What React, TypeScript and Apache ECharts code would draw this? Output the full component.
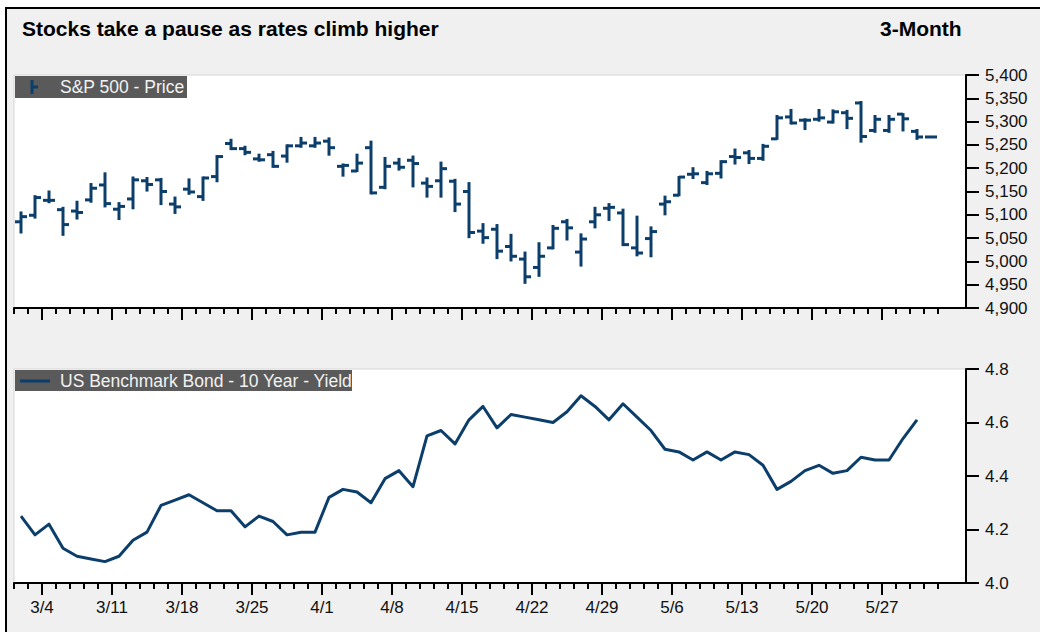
import React, { useEffect, useRef } from "react";
import * as echarts from "echarts";

// Trading-day categories (weekdays, holidays included)
const dates = [
  "2/29", "3/1", "3/4", "3/5", "3/6", "3/7", "3/8", "3/11", "3/12", "3/13", "3/14", "3/15",
  "3/18", "3/19", "3/20", "3/21", "3/22", "3/25", "3/26", "3/27", "3/28", "3/29",
  "4/1", "4/2", "4/3", "4/4", "4/5", "4/8", "4/9", "4/10", "4/11", "4/12",
  "4/15", "4/16", "4/17", "4/18", "4/19", "4/22", "4/23", "4/24", "4/25", "4/26",
  "4/29", "4/30", "5/1", "5/2", "5/3", "5/6", "5/7", "5/8", "5/9", "5/10",
  "5/13", "5/14", "5/15", "5/16", "5/17", "5/20", "5/21", "5/22", "5/23", "5/24",
  "5/27", "5/28", "5/29", "5/30", "5/31", "6/3",
];
const edges = [...dates, "6/4"];
const weekLabels = ["3/4", "3/11", "3/18", "3/25", "4/1", "4/8", "4/15", "4/22", "4/29", "5/6", "5/13", "5/20", "5/27"];

// S&P 500 daily OHLC
const spOpen = [
  5085, 5099, 5131, 5111, 5108, 5132, 5164, 5112, 5134, 5173, 5175, 5123,
  5155, 5139, 5182, 5253, 5242, 5220, 5229, 5226, 5248, 5248,
  5258, 5204, 5194, 5244, 5159, 5211, 5217, 5168, 5173, 5172,
  5150, 5065, 5069, 5032, 5005, 4987, 5029, 5085, 5020, 5085,
  5114, 5104, 5029, 5049, 5123, 5142, 5187, 5169, 5189, 5225,
  5233, 5221, 5263, 5310, 5303, 5305, 5299, 5319, 5340, 5281,
  5281, 5316, 5279, 5267,
];
const spHigh = [
  5105, 5140, 5150, 5115, 5128, 5166, 5189, 5125, 5180, 5179, 5177, 5137,
  5176, 5180, 5226, 5261, 5246, 5229, 5235, 5249, 5265, 5265,
  5264, 5208, 5229, 5257, 5222, 5220, 5225, 5178, 5212, 5175,
  5168, 5080, 5078, 5057, 5019, 5039, 5076, 5089, 5058, 5115,
  5123, 5111, 5096, 5073, 5139, 5181, 5200, 5192, 5215, 5240,
  5237, 5250, 5312, 5325, 5305, 5325, 5324, 5323, 5342, 5312,
  5312, 5316, 5282, 5267,
];
const spLow = [
  5062, 5094, 5127, 5057, 5092, 5128, 5118, 5091, 5114, 5152, 5123, 5104,
  5145, 5132, 5172, 5241, 5230, 5216, 5203, 5214, 5246, 5246,
  5229, 5184, 5194, 5146, 5157, 5197, 5161, 5139, 5139, 5108,
  5052, 5040, 5007, 5002, 4954, 4969, 5028, 5047, 4991, 5073,
  5089, 5035, 5013, 5011, 5101, 5142, 5179, 5166, 5180, 5210,
  5211, 5218, 5263, 5296, 5284, 5302, 5298, 5286, 5257, 5278,
  5278, 5281, 5263, 5267,
];
const spClose = [
  5096, 5137, 5131, 5079, 5105, 5157, 5124, 5118, 5175, 5165, 5150, 5117,
  5149, 5179, 5225, 5242, 5234, 5218, 5204, 5248, 5254, 5254,
  5244, 5206, 5211, 5147, 5204, 5202, 5210, 5161, 5199, 5123,
  5062, 5051, 5022, 5011, 4967, 5011, 5071, 5072, 5048, 5100,
  5116, 5036, 5018, 5064, 5128, 5181, 5188, 5188, 5214, 5223,
  5221, 5247, 5308, 5297, 5303, 5308, 5321, 5307, 5268, 5305,
  5305, 5306, 5267, 5267,
];

// US 10-year yield
const bondYield = [
  4.25, 4.18, 4.22, 4.13, 4.10, 4.09, 4.08, 4.10, 4.16, 4.19, 4.29, 4.31,
  4.33, 4.30, 4.27, 4.27, 4.21, 4.25, 4.23, 4.18, 4.19, 4.19,
  4.32, 4.35, 4.34, 4.30, 4.39, 4.42, 4.36, 4.55, 4.57, 4.52,
  4.61, 4.66, 4.58, 4.63, 4.62, 4.61, 4.60, 4.64, 4.70, 4.66,
  4.61, 4.67, 4.62, 4.57, 4.50, 4.49, 4.46, 4.49, 4.46, 4.49,
  4.48, 4.44, 4.35, 4.38, 4.42, 4.44, 4.41, 4.42, 4.47, 4.46,
  4.46, 4.54, 4.61,
];

const NAVY = "#0c3e6b";
const FONT = "Liberation Sans, Arial, Helvetica, sans-serif";
const AXIS = { color: "#000", width: 2 };

function xAxesFor(g: number, withLabels: boolean) {
  return [
    {
      type: "category", gridIndex: g, position: "bottom", data: dates, boundaryGap: true,
      axisLine: { show: true, onZero: false, lineStyle: AXIS },
      axisTick: { show: false }, axisLabel: { show: false }, splitLine: { show: false },
    },
    {
      type: "category", gridIndex: g, position: "bottom", data: edges, boundaryGap: false,
      axisLine: { show: false, onZero: false },
      axisTick: { show: true, length: 6, interval: (i: number) => i <= 66, lineStyle: AXIS },
      axisLabel: { show: false }, splitLine: { show: false },
    },
    {
      type: "category", gridIndex: g, position: "bottom", data: edges, boundaryGap: false,
      axisLine: { show: false, onZero: false },
      axisTick: { show: true, length: 12, interval: (_i: number, v: string) => weekLabels.includes(v), lineStyle: AXIS },
      axisLabel: {
        show: withLabels, interval: (_i: number, v: string) => weekLabels.includes(v),
        fontSize: 17, color: "#111", fontFamily: FONT, margin: 16,
      },
      splitLine: { show: false },
    },
  ];
}

export default function App() {
  const ref = useRef<HTMLDivElement>(null);
  useEffect(() => {
    const chart = echarts.init(ref.current!, null, { renderer: "svg" });
    const ohlc = spOpen.map((o, i) => [i, o, spHigh[i], spLow[i], spClose[i]]);
    const option: any = {
      animation: false,
      backgroundColor: "#f0f0f0",
      grid: [
        { left: 14, top: 75, width: 952, height: 233, show: true, backgroundColor: "#fff", borderColor: "#d6d6d6", borderWidth: 1 },
        { left: 14, top: 369, width: 952, height: 214, show: true, backgroundColor: "#fff", borderColor: "#d6d6d6", borderWidth: 1 },
      ],
      xAxis: [...xAxesFor(0, false), ...xAxesFor(1, true)],
      yAxis: [
        {
          type: "value", gridIndex: 0, position: "right", min: 4900, max: 5400, interval: 50,
          axisLine: { show: true, lineStyle: AXIS },
          axisTick: { show: true, length: 13, lineStyle: AXIS },
          splitLine: { show: false },
          axisLabel: {
            fontSize: 17, color: "#111", fontFamily: FONT, margin: 19,
            formatter: (v: number) => v.toLocaleString("en-US"),
          },
        },
        {
          type: "value", gridIndex: 1, position: "right", min: 4.0, max: 4.8, interval: 0.2,
          axisLine: { show: true, lineStyle: AXIS },
          axisTick: { show: true, length: 13, lineStyle: AXIS },
          splitLine: { show: false },
          axisLabel: {
            fontSize: 17, color: "#111", fontFamily: FONT, margin: 19,
            formatter: (v: number) => v.toFixed(1),
          },
        },
      ],
      series: [
        {
          type: "custom", name: "S&P 500 - Price", xAxisIndex: 0, yAxisIndex: 0,
          data: ohlc, encode: { x: 0, y: [1, 2, 3, 4] },
          renderItem: (_p: any, api: any) => {
            const x = api.value(0);
            const o = api.coord([x, api.value(1)]);
            const h = api.coord([x, api.value(2)]);
            const l = api.coord([x, api.value(3)]);
            const c = api.coord([x, api.value(4)]);
            const style = { stroke: NAVY, lineWidth: 3 };
            const children: any[] = [
              { type: "line", shape: { x1: o[0] - 6, y1: o[1], x2: o[0], y2: o[1] }, style },
              { type: "line", shape: { x1: c[0], y1: c[1], x2: c[0] + 6, y2: c[1] }, style },
            ];
            if (Math.abs(h[1] - l[1]) > 0.5) {
              children.push({ type: "line", shape: { x1: h[0], y1: h[1] - 1, x2: l[0], y2: l[1] + 1 }, style });
            }
            return { type: "group", children };
          },
        },
        {
          type: "line", name: "US Benchmark Bond - 10 Year - Yield", xAxisIndex: 3, yAxisIndex: 1,
          data: bondYield, symbol: "none", showSymbol: false,
          lineStyle: { color: NAVY, width: 3, join: "round" },
          itemStyle: { color: NAVY },
        },
      ],
      graphic: [
        { type: "rect", z: 100, shape: { x: 0, y: 0, width: 1040, height: 7 }, style: { fill: "#fff" } },
        { type: "rect", z: 100, shape: { x: 0, y: 0, width: 5, height: 632 }, style: { fill: "#fff" } },
        { type: "line", z: 101, shape: { x1: 5, y1: 8, x2: 1040, y2: 8 }, style: { stroke: "#000", lineWidth: 2 } },
        { type: "line", z: 101, shape: { x1: 6, y1: 7, x2: 6, y2: 632 }, style: { stroke: "#000", lineWidth: 2 } },
        {
          type: "text", z: 100, x: 22, y: 28,
          style: { text: "Stocks take a pause as rates climb higher", font: `bold 21px ${FONT}`, fill: "#000", verticalAlign: "middle" },
        },
        {
          type: "text", z: 100, x: 880, y: 28,
          style: { text: "3-Month", font: `bold 21px ${FONT}`, fill: "#000", verticalAlign: "middle" },
        },
        // legend: S&P 500
        { type: "rect", z: 100, shape: { x: 15, y: 76, width: 172, height: 22 }, style: { fill: "#5a5a5a" } },
        { type: "line", z: 101, shape: { x1: 32, y1: 80, x2: 32, y2: 94 }, style: { stroke: NAVY, lineWidth: 3 } },
        { type: "line", z: 101, shape: { x1: 32, y1: 87, x2: 38, y2: 87 }, style: { stroke: NAVY, lineWidth: 3 } },
        {
          type: "text", z: 101, x: 60, y: 87,
          style: { text: "S&P 500 - Price", font: `17.5px ${FONT}`, fill: "#f2f2f2", verticalAlign: "middle" },
        },
        // legend: bond (text clipped at the box edge)
        { type: "rect", z: 100, shape: { x: 15, y: 370, width: 337, height: 21 }, style: { fill: "#5a5a5a" } },
        { type: "line", z: 101, shape: { x1: 20, y1: 381, x2: 50, y2: 381 }, style: { stroke: NAVY, lineWidth: 3 } },
        {
          type: "text", z: 101, x: 60, y: 381,
          style: { text: "US Benchmark Bond - 10 Year - Yield", font: `17.5px ${FONT}`, fill: "#f2f2f2", verticalAlign: "middle" },
        },
        { type: "rect", z: 102, shape: { x: 352, y: 370, width: 16, height: 21 }, style: { fill: "#fff" } },
      ],
    };
    chart.setOption(option);
    return () => chart.dispose();
  }, []);
  return <div ref={ref} style={{ position: "fixed", left: 0, top: 0, width: 1040, height: 632 }} />;
}
